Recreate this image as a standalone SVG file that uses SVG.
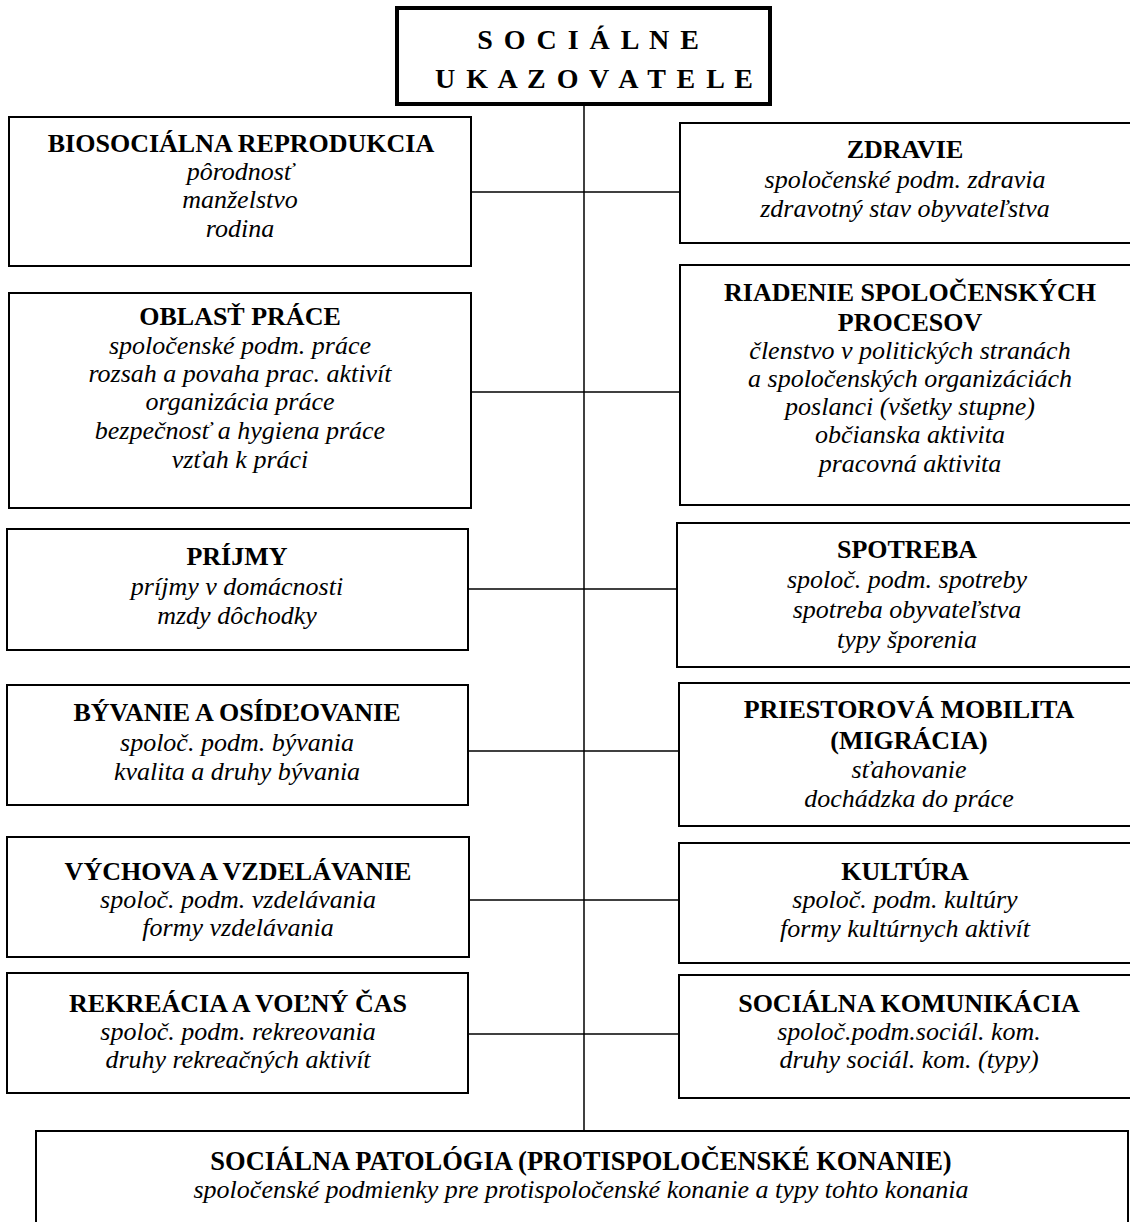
<svg xmlns="http://www.w3.org/2000/svg" width="1130" height="1222" viewBox="0 0 1130 1222">
<style>
text{font-family:"Liberation Serif","Times New Roman",serif;font-size:26px;text-anchor:middle;fill:#000}
.t{font-weight:bold}
.i{font-style:italic}
.h{font-weight:bold;font-size:28px;letter-spacing:2px}
.box{fill:#fff;stroke:#000;stroke-width:2}
.main{fill:#fff;stroke:#000;stroke-width:4}
.c{stroke:#000;stroke-width:1.5;fill:none}
</style>
<rect width="1130" height="1222" fill="#fff"/>
<g id="connectors">
<line class="c" x1="584" y1="105" x2="584" y2="1131"/>
<line class="c" x1="470" y1="192" x2="680" y2="192"/>
<line class="c" x1="470" y1="392" x2="680" y2="392"/>
<line class="c" x1="468" y1="589" x2="678" y2="589"/>
<line class="c" x1="468" y1="751" x2="679" y2="751"/>
<line class="c" x1="469" y1="900" x2="679" y2="900"/>
<line class="c" x1="468" y1="1034" x2="679" y2="1034"/>
</g>
<g id="root">
<rect class="main" x="397" y="8" width="373" height="96"/>
<text class="h" x="589" y="49">S O C I Á L N E</text>
<text class="h" x="595" y="88">U K A Z O V A T E L E</text>
</g>
<g id="biosocialna">
<rect class="box" x="9" y="117" width="462" height="149"/>
<text class="t" x="241" y="152">BIOSOCIÁLNA REPRODUKCIA</text>
<text class="i" x="240" y="180">pôrodnosť</text>
<text class="i" x="240" y="208">manželstvo</text>
<text class="i" x="240" y="237">rodina</text>
</g>
<g id="zdravie">
<rect class="box" x="680" y="123" width="453" height="120"/>
<text class="t" x="905" y="158">ZDRAVIE</text>
<text class="i" x="905" y="188">spoločenské podm. zdravia</text>
<text class="i" x="905" y="217">zdravotný stav obyvateľstva</text>
</g>
<g id="oblast-prace">
<rect class="box" x="9" y="293" width="462" height="215"/>
<text class="t" x="240" y="325">OBLASŤ PRÁCE</text>
<text class="i" x="240" y="354">spoločenské podm. práce</text>
<text class="i" x="240" y="382">rozsah a povaha prac. aktivít</text>
<text class="i" x="240" y="410">organizácia práce</text>
<text class="i" x="240" y="439">bezpečnosť a hygiena práce</text>
<text class="i" x="240" y="468">vzťah k práci</text>
</g>
<g id="riadenie">
<rect class="box" x="680" y="265" width="453" height="240"/>
<text class="t" x="910" y="301">RIADENIE SPOLOČENSKÝCH</text>
<text class="t" x="910" y="331">PROCESOV</text>
<text class="i" x="910" y="359">členstvo v politických stranách</text>
<text class="i" x="910" y="387">a spoločenských organizáciách</text>
<text class="i" x="910" y="415">poslanci (všetky stupne)</text>
<text class="i" x="910" y="443">občianska aktivita</text>
<text class="i" x="910" y="472">pracovná aktivita</text>
</g>
<g id="prijmy">
<rect class="box" x="7" y="529" width="461" height="121"/>
<text class="t" x="237" y="565">PRÍJMY</text>
<text class="i" x="237" y="595">príjmy v domácnosti</text>
<text class="i" x="237" y="624">mzdy dôchodky</text>
</g>
<g id="spotreba">
<rect class="box" x="677" y="523" width="456" height="144"/>
<text class="t" x="907" y="558">SPOTREBA</text>
<text class="i" x="907" y="588">spoloč. podm. spotreby</text>
<text class="i" x="907" y="618">spotreba obyvateľstva</text>
<text class="i" x="907" y="648">typy šporenia</text>
</g>
<g id="byvanie">
<rect class="box" x="7" y="685" width="461" height="120"/>
<text class="t" x="237" y="721">BÝVANIE A OSÍDĽOVANIE</text>
<text class="i" x="237" y="751">spoloč. podm. bývania</text>
<text class="i" x="237" y="780">kvalita a druhy bývania</text>
</g>
<g id="priestorova-mobilita">
<rect class="box" x="679" y="683" width="454" height="143"/>
<text class="t" x="909" y="718">PRIESTOROVÁ MOBILITA</text>
<text class="t" x="909" y="749">(MIGRÁCIA)</text>
<text class="i" x="909" y="778">sťahovanie</text>
<text class="i" x="909" y="807">dochádzka do práce</text>
</g>
<g id="vychova">
<rect class="box" x="7" y="837" width="462" height="120"/>
<text class="t" x="238" y="880">VÝCHOVA A VZDELÁVANIE</text>
<text class="i" x="238" y="908">spoloč. podm. vzdelávania</text>
<text class="i" x="238" y="936">formy vzdelávania</text>
</g>
<g id="kultura">
<rect class="box" x="679" y="843" width="454" height="120"/>
<text class="t" x="905" y="880">KULTÚRA</text>
<text class="i" x="905" y="908">spoloč. podm. kultúry</text>
<text class="i" x="905" y="937">formy kultúrnych aktivít</text>
</g>
<g id="rekreacia">
<rect class="box" x="7" y="973" width="461" height="120"/>
<text class="t" x="238" y="1012">REKREÁCIA A VOĽNÝ ČAS</text>
<text class="i" x="238" y="1040">spoloč. podm. rekreovania</text>
<text class="i" x="238" y="1068">druhy rekreačných aktivít</text>
</g>
<g id="socialna-komunikacia">
<rect class="box" x="679" y="975" width="454" height="123"/>
<text class="t" x="909" y="1012">SOCIÁLNA KOMUNIKÁCIA</text>
<text class="i" x="909" y="1040">spoloč.podm.sociál. kom.</text>
<text class="i" x="909" y="1068">druhy sociál. kom. (typy)</text>
</g>
<g id="socialna-patologia">
<rect class="box" x="36" y="1131" width="1092" height="110"/>
<text class="t" x="581" y="1170" style="font-size:26.5px">SOCIÁLNA PATOLÓGIA (PROTISPOLOČENSKÉ KONANIE)</text>
<text class="i" x="581" y="1198">spoločenské podmienky pre protispoločenské konanie a typy tohto konania</text>
</g>
</svg>
